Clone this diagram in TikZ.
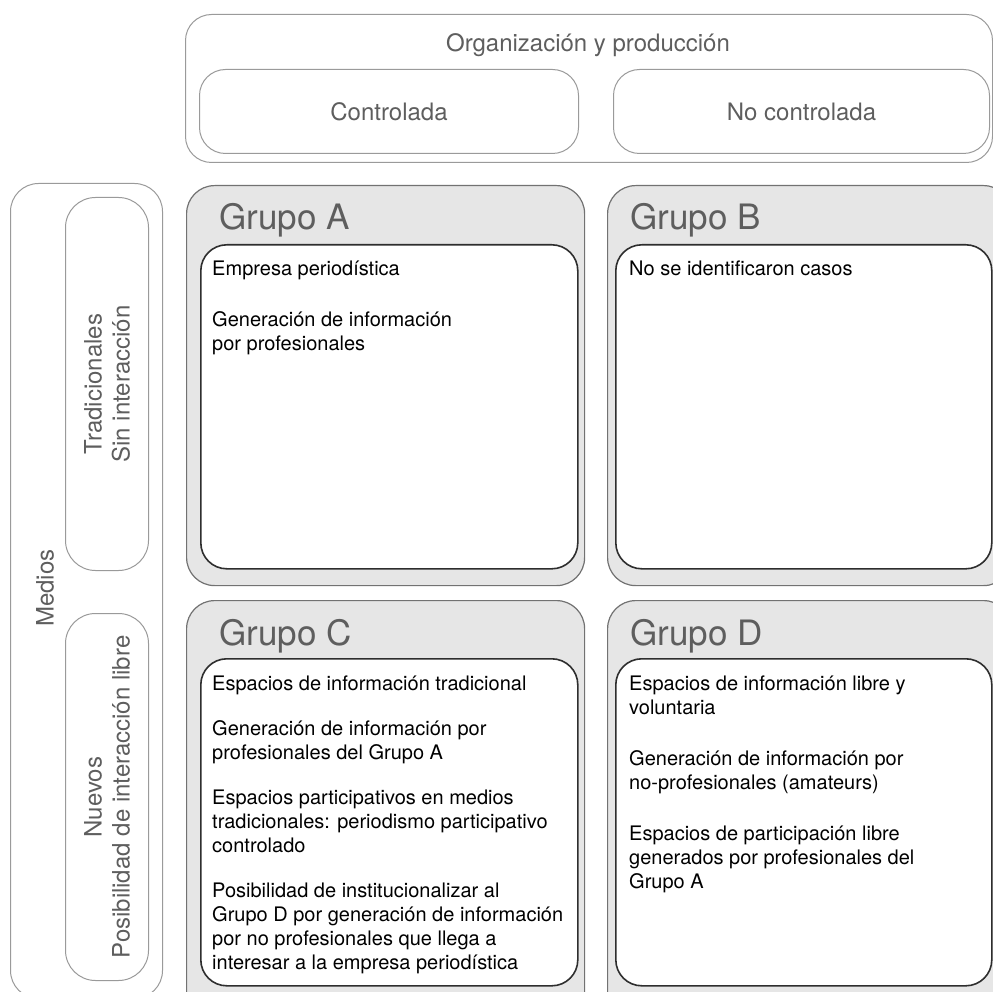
\documentclass[tikz,border=0pt]{standalone}
\usepackage{fontspec}
\setmainfont{TeX Gyre Heros}
\definecolor{lblgray}{HTML}{5E5E5E}
\definecolor{thinline}{HTML}{9A9A9A}
\definecolor{grpfill}{HTML}{E6E6E6}
\definecolor{grpline}{HTML}{727272}
\definecolor{innerline}{HTML}{2E2E2E}
\begin{document}
\begin{tikzpicture}[x=1pt,y=-1pt,
  lbox/.style={draw=thinline, line width=1pt, fill=white, rounded corners=26pt, inner sep=0pt},
  grpbox/.style={draw=grpline, line width=1.2pt, fill=grpfill, rounded corners=28pt, inner sep=0pt},
  innerbox/.style={draw=innerline, line width=1.6pt, fill=white, rounded corners=26pt, inner sep=0pt},
  lbl/.style={font=\fontsize{24}{28}\selectfont, text=lblgray, inner sep=0pt, align=center},
  ttl/.style={font=\fontsize{35}{40}\selectfont, text=lblgray, inner sep=0pt, anchor=base west},
  body/.style={font=\fontsize{20}{24}\selectfont, text=black, inner sep=0pt, align=left, anchor=north west}
]
\useasboundingbox (0,0) rectangle (993,992);
\clip (0,0) rectangle (993,992);

% top header
\node[lbox, anchor=north west, minimum width=807pt, minimum height=148pt] (org) at (185,14) {};
\node[lbl, anchor=base] (orgt) at (588,52) {Organización y producción};
\node[lbox, anchor=north west, minimum width=379pt, minimum height=84pt] (ctrl) at (199,69) {};
\node[lbl] (ctrlt) at (ctrl.center) {Controlada};
\node[lbox, anchor=north west, minimum width=376pt, minimum height=84pt] (nctrl) at (613,69) {};
\node[lbl] (nctrlt) at (nctrl.center) {No controlada};

% left side
\node[lbox, anchor=north west, minimum width=152pt, minimum height=815pt, rounded corners=28pt] (medios) at (10,183) {};
\node[lbl, rotate=90] (mediost) at (45,588) {Medios};
\node[lbox, anchor=north west, minimum width=83pt, minimum height=373pt, rounded corners=30pt] (trad) at (65,197) {};
\node[lbl, rotate=90] (tradt) at (trad.center) {Tradicionales\\Sin interacción};
\node[lbox, anchor=north west, minimum width=83pt, minimum height=367pt, rounded corners=30pt] (nuev) at (65,613) {};
\node[lbl, rotate=90] (nuevt) at (nuev.center) {Nuevos\\Posibilidad de interacción libre};

% group A
\node[grpbox, anchor=north west, minimum width=398pt, minimum height=400pt] (ga) at (186,185) {};
\node[ttl] (gat) at (219,230) {Grupo A};
\node[innerbox, anchor=north west, minimum width=377pt, minimum height=324pt] (gai) at (200,244) {};
\node[body] (gab) at (212,259) {\rule{0pt}{16pt}Empresa periodística\\[27pt]Generación de información\\por profesionales};

% group B
\node[grpbox, anchor=north west, minimum width=404pt, minimum height=400pt] (gb) at (607,185) {};
\node[ttl] (gbt) at (630,230) {Grupo B};
\node[innerbox, anchor=north west, minimum width=376pt, minimum height=324pt] (gbi) at (615,244) {};
\node[body] (gbb) at (629,259) {\rule{0pt}{16pt}No se identificaron casos};

% group C
\node[grpbox, anchor=north west, minimum width=398pt, minimum height=420pt] (gc) at (186,600) {};
\node[ttl] (gct) at (219,645) {Grupo C};
\node[innerbox, anchor=north west, minimum width=377pt, minimum height=327pt] (gci) at (200,658) {};
\node[body] (gcb) at (212,674) {\rule{0pt}{16pt}Espacios de información tradicional\\[21pt]Generación de información por\\profesionales del Grupo A\\[21pt]Espacios participativos en medios\\tradicionales: periodismo participativo\\controlado\\[21pt]Posibilidad de institucionalizar al\\Grupo D por generación de información\\por no profesionales que llega a\\interesar a la empresa periodística};

% group D
\node[grpbox, anchor=north west, minimum width=404pt, minimum height=420pt] (gd) at (607,600) {};
\node[ttl] (gdt) at (630,645) {Grupo D};
\node[innerbox, anchor=north west, minimum width=376pt, minimum height=327pt] (gdi) at (615,658) {};
\node[body] (gdb) at (629,674) {\rule{0pt}{16pt}Espacios de información libre y\\voluntaria\\[27pt]Generación de información por\\no-profesionales (amateurs)\\[27pt]Espacios de participación libre\\generados por profesionales del\\Grupo A};
\end{tikzpicture}
\end{document}
